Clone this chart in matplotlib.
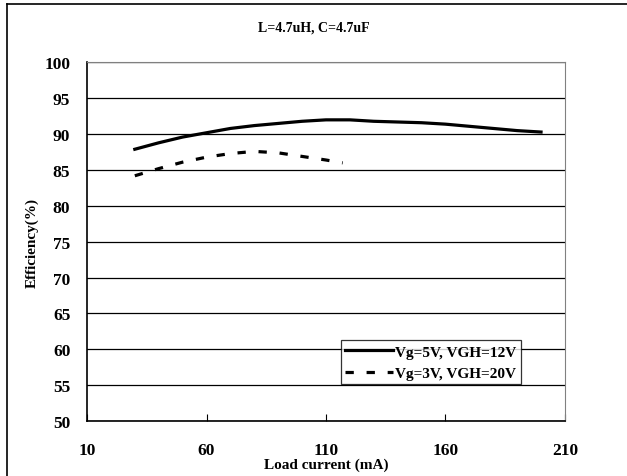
import matplotlib
matplotlib.use('Agg')
import matplotlib.pyplot as plt
from matplotlib.lines import Line2D

plt.rcParams['font.family'] = ['Liberation Serif', 'DejaVu Serif']
plt.rcParams['font.weight'] = 'bold'

# Vg=5V, VGH=12V
x_5v = [30, 40, 50, 60, 70, 80, 90, 100, 110, 120, 130, 140, 150, 160, 170, 180, 190, 200]
eff_5v = [87.9, 88.8, 89.6, 90.2, 90.8, 91.2, 91.5, 91.8, 92.0, 92.0, 91.8, 91.7, 91.6, 91.4, 91.1, 90.8, 90.5, 90.3]

# Vg=3V, VGH=20V
x_3v = [30, 40, 50, 60, 70, 80, 90, 100, 110, 117]
eff_3v = [84.2, 85.2, 86.1, 86.8, 87.3, 87.6, 87.4, 86.9, 86.4, 86.0]

xticks = [10, 60, 110, 160, 210]
yticks = list(range(50, 101, 5))

fig = plt.figure(figsize=(6.27, 4.77), dpi=100)
ax = fig.add_axes([0.1388, 0.1153, 0.7622, 0.7516])

ax.plot(x_5v, eff_5v, color='black', lw=2.3, label='Vg=5V, VGH=12V')
ax.plot(x_3v, eff_3v, color='black', lw=2.3, dashes=(2.6, 4), label='Vg=3V, VGH=20V')

ax.set_xlim(10, 210)
ax.set_ylim(50, 100)
ax.set_xticks(xticks)
ax.set_yticks(yticks)
ax.tick_params(axis='x', direction='in', length=5, width=0.8, labelsize=12.5, pad=15)
ax.tick_params(axis='y', length=0, labelsize=12.5, pad=12)
for lab in ax.get_xticklabels() + ax.get_yticklabels():
    lab.set_fontweight('bold')

ax.yaxis.grid(True, color='black', lw=0.9)
ax.set_axisbelow(True)
ax.spines['left'].set_linewidth(1.2)
ax.spines['bottom'].set_linewidth(1.2)
ax.spines['top'].set_color('#808080')
ax.spines['right'].set_color('#808080')

ax.set_xlabel('Load current (mA)', fontsize=11, fontweight='bold', labelpad=0)
ax.set_ylabel('Efficiency(%)', fontsize=11, fontweight='bold', labelpad=4)
fig.text(0.5, 0.942, 'L=4.7uH, C=4.7uF', ha='center', va='center', fontsize=10, fontweight='bold')

leg = ax.legend(loc='lower left', bbox_to_anchor=(0.531, 0.102), frameon=True, fancybox=False,
                edgecolor='black', fontsize=11, handlelength=3.1, handletextpad=0.15,
                borderpad=0.3, labelspacing=0.5, borderaxespad=0)
leg.get_frame().set_linewidth(0.9)
for t in leg.get_texts():
    t.set_fontweight('bold')

# outer chart border (left and top edges visible)
fig.add_artist(Line2D([0.0104, 0.0104], [0.0, 0.9895], transform=fig.transFigure, color='black', lw=1.2))
fig.add_artist(Line2D([0.0104, 1.0], [0.9895, 0.9895], transform=fig.transFigure, color='black', lw=1.2))

fig.savefig('out.png', dpi=100)
